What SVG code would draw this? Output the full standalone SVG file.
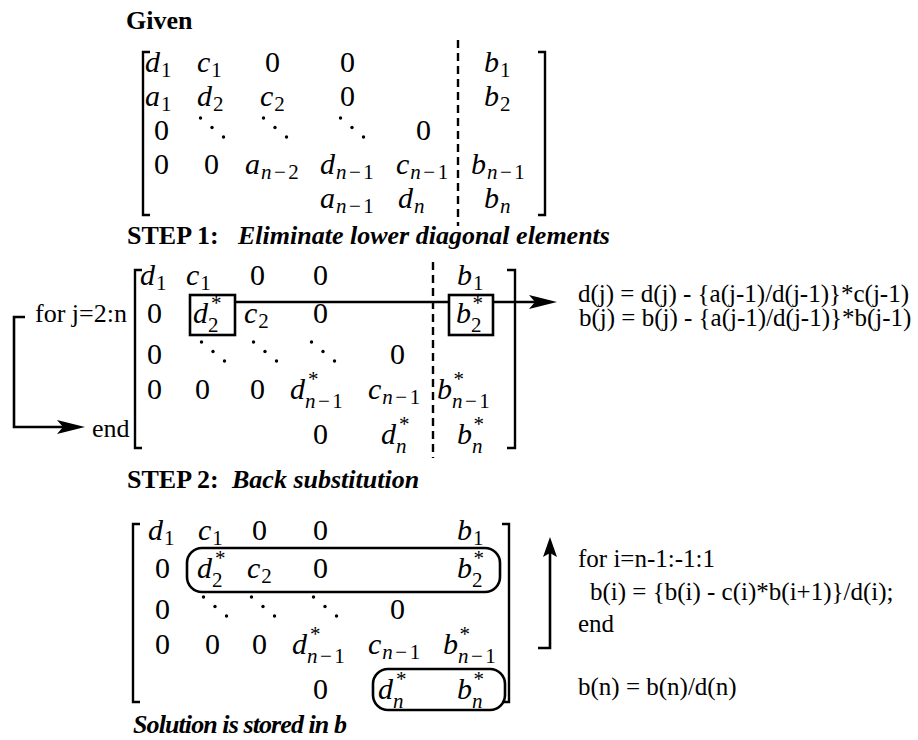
<svg xmlns="http://www.w3.org/2000/svg" width="918" height="740" viewBox="0 0 918 740" font-family="'Liberation Serif', 'Times New Roman', Times, 'DejaVu Serif', serif">
<defs>
<style>
text { font-family: 'Liberation Serif', 'Times New Roman', Times, 'DejaVu Serif', serif; fill: #000; }
.h { font-size: 26px; font-weight: bold; }
.hi { font-size: 26px; font-weight: bold; font-style: italic; }
.t { font-size: 26px; }
.f { font-size: 25px; }
.m { font-size: 30px; }
.i { font-style: italic; }
.s { font-size: 21px; font-style: normal; }
.si { font-size: 21px; font-style: italic; }
.br { fill: none; stroke: #000; stroke-width: 2.4; }
.dash { fill: none; stroke: #000; stroke-width: 2.4; stroke-dasharray: 8 5; }
.box { fill: none; stroke: #000; stroke-width: 2.6; }
.ln { fill: none; stroke: #000; stroke-width: 2.6; }
</style>
<marker id="ah" markerUnits="userSpaceOnUse" markerWidth="28" markerHeight="14" viewBox="0 0 28 14" refX="6" refY="7" orient="auto"><path d="M0,0 L28,7 L0,14 L6,7 Z" fill="#000"/></marker>
<marker id="ah2" markerUnits="userSpaceOnUse" markerWidth="20" markerHeight="14" viewBox="0 0 20 14" refX="4" refY="7" orient="auto"><path d="M0,0 L20,7 L0,14 L4,7 Z" fill="#000"/></marker>
<g id="dd"><circle cx="1.5" cy="-22" r="1.7"/><circle cx="13" cy="-12.5" r="1.7"/><circle cx="24.5" cy="-3" r="1.7"/></g>
</defs>

<g id="given">
<text class="h" x="126" y="29">Given</text>
</g>

<g id="matrix1">
<path class="br" d="M150,52 H143 V215 H150"/>
<path class="br" d="M538,52 H545 V215 H538"/>
<path class="dash" d="M458,40 V226"/>
<text class="m" x="145" y="72"><tspan class="i">d</tspan><tspan class="s" dx="1" dy="5">1</tspan></text>
<text class="m" x="197" y="72"><tspan class="i">c</tspan><tspan class="s" dx="1" dy="5">1</tspan></text>
<text class="m" x="265" y="72">0</text>
<text class="m" x="340" y="72">0</text>
<text class="m" x="484" y="72"><tspan class="i">b</tspan><tspan class="s" dx="1" dy="5">1</tspan></text>

<text class="m" x="145" y="106"><tspan class="i">a</tspan><tspan class="s" dx="1" dy="5">1</tspan></text>
<text class="m" x="197" y="106"><tspan class="i">d</tspan><tspan class="s" dx="1" dy="5">2</tspan></text>
<text class="m" x="260" y="106"><tspan class="i">c</tspan><tspan class="s" dx="1" dy="5">2</tspan></text>
<text class="m" x="340" y="106">0</text>
<text class="m" x="484" y="106"><tspan class="i">b</tspan><tspan class="s" dx="1" dy="5">2</tspan></text>

<text class="m" x="154" y="140">0</text>
<use href="#dd" x="199" y="140"/>
<use href="#dd" x="262" y="140"/>
<use href="#dd" x="339" y="140"/>
<text class="m" x="416" y="140">0</text>

<text class="m" x="154" y="174">0</text>
<text class="m" x="204" y="174">0</text>
<text class="m" x="245" y="174"><tspan class="i">a</tspan><tspan class="si" dx="1" dy="5">n</tspan><tspan class="s" dx="2.5">−</tspan><tspan class="s" dx="2.5">2</tspan></text>
<text class="m" x="320" y="174"><tspan class="i">d</tspan><tspan class="si" dx="1" dy="5">n</tspan><tspan class="s" dx="2.5">−</tspan><tspan class="s" dx="2.5">1</tspan></text>
<text class="m" x="396" y="174"><tspan class="i">c</tspan><tspan class="si" dx="1" dy="5">n</tspan><tspan class="s" dx="2.5">−</tspan><tspan class="s" dx="2.5">1</tspan></text>
<text class="m" x="471" y="174"><tspan class="i">b</tspan><tspan class="si" dx="1" dy="5">n</tspan><tspan class="s" dx="2.5">−</tspan><tspan class="s" dx="2.5">1</tspan></text>

<text class="m" x="320" y="208"><tspan class="i">a</tspan><tspan class="si" dx="1" dy="5">n</tspan><tspan class="s" dx="2.5">−</tspan><tspan class="s" dx="2.5">1</tspan></text>
<text class="m" x="398" y="208"><tspan class="i">d</tspan><tspan class="si" dx="1" dy="5">n</tspan></text>
<text class="m" x="484" y="208"><tspan class="i">b</tspan><tspan class="si" dx="1" dy="5">n</tspan></text>
</g>

<g id="step1">
<text class="h" x="127" y="244">STEP 1:</text>
<text class="hi" x="238" y="244">Eliminate lower diagonal elements</text>
</g>

<g id="matrix2">
<path class="br" d="M142,270 H135 V448 H142"/>
<path class="br" d="M507,270 H515 V448 H507"/>
<path class="dash" d="M433,262 V458"/>
<rect class="box" x="190" y="295" width="45" height="40"/>
<rect class="box" x="449" y="295" width="44" height="40"/>
<text class="m" x="140" y="285"><tspan class="i">d</tspan><tspan class="s" dx="1" dy="5">1</tspan></text>
<text class="m" x="186" y="285"><tspan class="i">c</tspan><tspan class="s" dx="1" dy="5">1</tspan></text>
<text class="m" x="250" y="285">0</text>
<text class="m" x="313" y="285">0</text>
<text class="m" x="457" y="285"><tspan class="i">b</tspan><tspan class="s" dx="1" dy="5">1</tspan></text>

<text class="m" x="147" y="323">0</text>
<text class="m" x="193" y="323"><tspan class="i">d</tspan><tspan class="s" dx="3" dy="-13">*</tspan><tspan class="s" dx="-13.5" dy="22">2</tspan></text>
<text class="m" x="244" y="323"><tspan class="i">c</tspan><tspan class="s" dx="1" dy="5">2</tspan></text>
<text class="m" x="313" y="323">0</text>
<text class="m" x="456" y="323"><tspan class="i">b</tspan><tspan class="s" dx="1.5" dy="-13">*</tspan><tspan class="s" dx="-12" dy="22">2</tspan></text>

<text class="m" x="147" y="364">0</text>
<use href="#dd" x="200" y="364"/>
<use href="#dd" x="252" y="364"/>
<use href="#dd" x="310" y="364"/>
<text class="m" x="390" y="364">0</text>

<text class="m" x="147" y="399">0</text>
<text class="m" x="195" y="399">0</text>
<text class="m" x="250" y="399">0</text>
<text class="m" x="290" y="399"><tspan class="i">d</tspan><tspan class="s" dx="3" dy="-13">*</tspan><tspan class="si" dx="-13.5" dy="22">n</tspan><tspan class="s" dx="2.5">−</tspan><tspan class="s" dx="2.5">1</tspan></text>
<text class="m" x="368" y="399"><tspan class="i">c</tspan><tspan class="si" dx="1" dy="5">n</tspan><tspan class="s" dx="2.5">−</tspan><tspan class="s" dx="2.5">1</tspan></text>
<text class="m" x="437" y="399"><tspan class="i">b</tspan><tspan class="s" dx="1.5" dy="-13">*</tspan><tspan class="si" dx="-12" dy="22">n</tspan><tspan class="s" dx="2.5">−</tspan><tspan class="s" dx="2.5">1</tspan></text>

<text class="m" x="313" y="444">0</text>
<text class="m" x="381" y="444"><tspan class="i">d</tspan><tspan class="s" dx="3" dy="-13">*</tspan><tspan class="si" dx="-13.5" dy="22">n</tspan></text>
<text class="m" x="457" y="444"><tspan class="i">b</tspan><tspan class="s" dx="1.5" dy="-13">*</tspan><tspan class="si" dx="-12" dy="22">n</tspan></text>
</g>

<g id="loop1">
<text class="t" x="35" y="322">for j=2:n</text>
<text class="t" x="92" y="437">end</text>
</g>

<g id="update1">
<text class="f" x="578" y="302">d(j) = d(j) - {a(j-1)/d(j-1)}*c(j-1)</text>
<text class="f" x="579" y="326">b(j) = b(j) - {a(j-1)/d(j-1)}*b(j-1)</text>
</g>

<g id="step2">
<text class="h" x="127" y="488">STEP 2:</text>
<text class="hi" x="232" y="488">Back substitution</text>
</g>

<g id="matrix3">
<path class="br" d="M140,524 H133 V702 H140"/>
<path class="br" d="M502,524 H509 V702 H502"/>
<rect class="box" x="187" y="548" width="313" height="44" rx="15" ry="15"/>
<rect class="box" x="373" y="669" width="132" height="41" rx="15" ry="15"/>
<text class="m" x="148" y="540"><tspan class="i">d</tspan><tspan class="s" dx="1" dy="5">1</tspan></text>
<text class="m" x="198" y="540"><tspan class="i">c</tspan><tspan class="s" dx="1" dy="5">1</tspan></text>
<text class="m" x="252" y="540">0</text>
<text class="m" x="313" y="540">0</text>
<text class="m" x="457" y="540"><tspan class="i">b</tspan><tspan class="s" dx="1" dy="5">1</tspan></text>

<text class="m" x="155" y="578">0</text>
<text class="m" x="197" y="578"><tspan class="i">d</tspan><tspan class="s" dx="3" dy="-13">*</tspan><tspan class="s" dx="-13.5" dy="22">2</tspan></text>
<text class="m" x="247" y="578"><tspan class="i">c</tspan><tspan class="s" dx="1" dy="5">2</tspan></text>
<text class="m" x="313" y="578">0</text>
<text class="m" x="457" y="578"><tspan class="i">b</tspan><tspan class="s" dx="1.5" dy="-13">*</tspan><tspan class="s" dx="-12" dy="22">2</tspan></text>

<text class="m" x="155" y="619">0</text>
<use href="#dd" x="202" y="619"/>
<use href="#dd" x="250" y="619"/>
<use href="#dd" x="312" y="619"/>
<text class="m" x="390" y="619">0</text>

<text class="m" x="155" y="654">0</text>
<text class="m" x="205" y="654">0</text>
<text class="m" x="252" y="654">0</text>
<text class="m" x="292" y="654"><tspan class="i">d</tspan><tspan class="s" dx="3" dy="-13">*</tspan><tspan class="si" dx="-13.5" dy="22">n</tspan><tspan class="s" dx="2.5">−</tspan><tspan class="s" dx="2.5">1</tspan></text>
<text class="m" x="368" y="654"><tspan class="i">c</tspan><tspan class="si" dx="1" dy="5">n</tspan><tspan class="s" dx="2.5">−</tspan><tspan class="s" dx="2.5">1</tspan></text>
<text class="m" x="443" y="654"><tspan class="i">b</tspan><tspan class="s" dx="1.5" dy="-13">*</tspan><tspan class="si" dx="-12" dy="22">n</tspan><tspan class="s" dx="2.5">−</tspan><tspan class="s" dx="2.5">1</tspan></text>

<text class="m" x="313" y="699">0</text>
<text class="m" x="378" y="699"><tspan class="i">d</tspan><tspan class="s" dx="3" dy="-13">*</tspan><tspan class="si" dx="-13.5" dy="22">n</tspan></text>
<text class="m" x="457" y="699"><tspan class="i">b</tspan><tspan class="s" dx="1.5" dy="-13">*</tspan><tspan class="si" dx="-12" dy="22">n</tspan></text>
</g>

<g id="loop2">
<text class="f" x="578" y="567">for i=n-1:-1:1</text>
<text class="f" x="590" y="600">b(i) = {b(i) - c(i)*b(i+1)}/d(i);</text>
<text class="f" x="578" y="632">end</text>
<text class="f" x="578" y="695">b(n) = b(n)/d(n)</text>
</g>

<g id="solution">
<text class="hi" x="133" y="733" textLength="214" lengthAdjust="spacing">Solution is stored in b</text>
</g>

<g id="connectors">
<path class="ln" d="M235,302 H449"/>
<path class="ln" d="M493,302 H535" marker-end="url(#ah)"/>
<path class="ln" d="M25,317 H14 V427 H63" marker-end="url(#ah)"/>
<path class="ln" d="M538,648 H550 V553" marker-end="url(#ah2)"/>
</g>
</svg>
